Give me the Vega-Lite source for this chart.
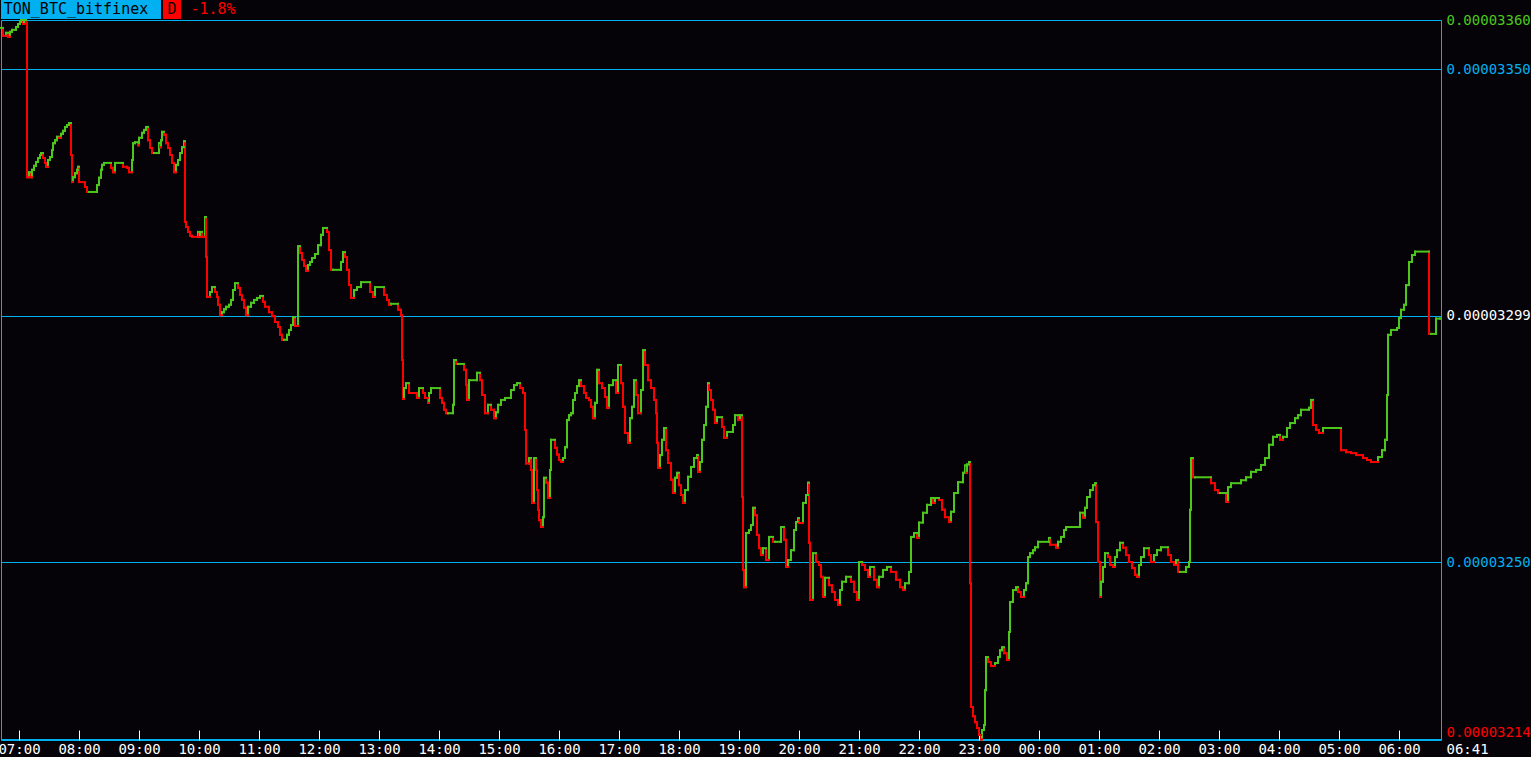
{
  "$schema": "https://vega.github.io/schema/vega-lite/v6.json",
  "background": "#050308",
  "padding": {"left": -3, "top": 0, "right": 0, "bottom": 0},
  "config": {"view": {"stroke": null}, "font": "DejaVu Sans Mono"},
  "spacing": -7,
  "vconcat": [
    {
      "spacing": 2,
      "hconcat": [
        {
          "width": 160, "height": 19,
          "view": {"fill": "#00b0f0", "stroke": null},
          "data": {"values": [{"label": "TON_BTC_bitfinex"}]},
          "mark": {"type": "text", "font": "DejaVu Sans Mono", "fontSize": 15, "color": "#000000", "dx": -5, "dy": -1},
          "encoding": {"text": {"field": "label"}}
        },
        {
          "width": 18, "height": 19,
          "view": {"fill": "#ff0000", "stroke": null},
          "data": {"values": [{"label": "D"}]},
          "mark": {"type": "text", "font": "DejaVu Sans Mono", "fontSize": 15, "color": "#000000", "dy": -1},
          "encoding": {"text": {"field": "label"}}
        },
        {
          "width": 60, "height": 19,
          "data": {"values": [{"label": "-1.8%"}]},
          "mark": {"type": "text", "font": "DejaVu Sans Mono", "fontSize": 15, "color": "#ff0000", "dy": -1},
          "encoding": {"text": {"field": "label"}}
        }
      ]
    },
    {
      "width": 1440,
      "height": 720,
      "view": {"stroke": "#00b0f0", "strokeWidth": 1, "fill": "#050308"},
      "data": {
        "format": {"parse": {"t": "date"}},
        "values": [
          {"t":"2024-09-18T06:42","p":3358.4},{"t":"2024-09-18T06:44","p":3356.8},{"t":"2024-09-18T06:47","p":3357.4},{"t":"2024-09-18T06:49","p":3356.6},
          {"t":"2024-09-18T06:51","p":3357.6},{"t":"2024-09-18T06:53","p":3358.0},{"t":"2024-09-18T06:57","p":3358.6},{"t":"2024-09-18T06:59","p":3359.2},
          {"t":"2024-09-18T07:01","p":3359.6},{"t":"2024-09-18T07:02","p":3360.0},{"t":"2024-09-18T07:04","p":3359.2},{"t":"2024-09-18T07:05","p":3360.0},
          {"t":"2024-09-18T07:07","p":3359.4},{"t":"2024-09-18T07:08","p":3328.1},{"t":"2024-09-18T07:10","p":3329.1},{"t":"2024-09-18T07:12","p":3328.1},
          {"t":"2024-09-18T07:13","p":3329.6},{"t":"2024-09-18T07:15","p":3330.4},{"t":"2024-09-18T07:17","p":3331.2},{"t":"2024-09-18T07:19","p":3332.0},
          {"t":"2024-09-18T07:21","p":3332.6},{"t":"2024-09-18T07:22","p":3333.0},{"t":"2024-09-18T07:24","p":3332.0},{"t":"2024-09-18T07:26","p":3331.0},
          {"t":"2024-09-18T07:27","p":3330.2},{"t":"2024-09-18T07:29","p":3331.6},{"t":"2024-09-18T07:31","p":3332.2},{"t":"2024-09-18T07:33","p":3333.6},
          {"t":"2024-09-18T07:34","p":3335.0},{"t":"2024-09-18T07:36","p":3335.6},{"t":"2024-09-18T07:38","p":3336.3},{"t":"2024-09-18T07:40","p":3336.1},
          {"t":"2024-09-18T07:42","p":3336.9},{"t":"2024-09-18T07:44","p":3337.5},{"t":"2024-09-18T07:46","p":3338.3},{"t":"2024-09-18T07:48","p":3338.7},
          {"t":"2024-09-18T07:50","p":3339.1},{"t":"2024-09-18T07:52","p":3332.6},{"t":"2024-09-18T07:53","p":3327.1},{"t":"2024-09-18T07:54","p":3328.1},
          {"t":"2024-09-18T07:56","p":3328.9},{"t":"2024-09-18T07:58","p":3329.6},{"t":"2024-09-18T07:59","p":3330.2},{"t":"2024-09-18T08:00","p":3327.1},
          {"t":"2024-09-18T08:06","p":3326.1},{"t":"2024-09-18T08:08","p":3325.1},{"t":"2024-09-18T08:10","p":3325.1},{"t":"2024-09-18T08:18","p":3326.5},
          {"t":"2024-09-18T08:20","p":3328.0},{"t":"2024-09-18T08:22","p":3329.6},{"t":"2024-09-18T08:23","p":3330.6},{"t":"2024-09-18T08:25","p":3331.0},
          {"t":"2024-09-18T08:32","p":3330.0},{"t":"2024-09-18T08:34","p":3329.1},{"t":"2024-09-18T08:36","p":3331.0},{"t":"2024-09-18T08:44","p":3330.2},
          {"t":"2024-09-18T08:48","p":3330.0},{"t":"2024-09-18T08:50","p":3329.1},{"t":"2024-09-18T08:53","p":3331.6},{"t":"2024-09-18T08:54","p":3335.0},
          {"t":"2024-09-18T08:56","p":3335.2},{"t":"2024-09-18T08:59","p":3334.6},{"t":"2024-09-18T09:00","p":3336.1},{"t":"2024-09-18T09:03","p":3337.1},
          {"t":"2024-09-18T09:05","p":3337.7},{"t":"2024-09-18T09:07","p":3338.3},{"t":"2024-09-18T09:09","p":3335.6},{"t":"2024-09-18T09:11","p":3334.0},
          {"t":"2024-09-18T09:13","p":3333.0},{"t":"2024-09-18T09:15","p":3333.0},{"t":"2024-09-18T09:20","p":3335.0},{"t":"2024-09-18T09:21","p":3334.2},
          {"t":"2024-09-18T09:22","p":3335.6},{"t":"2024-09-18T09:23","p":3337.3},{"t":"2024-09-18T09:25","p":3336.7},{"t":"2024-09-18T09:27","p":3335.0},
          {"t":"2024-09-18T09:29","p":3334.0},{"t":"2024-09-18T09:31","p":3332.6},{"t":"2024-09-18T09:33","p":3331.0},{"t":"2024-09-18T09:35","p":3329.1},
          {"t":"2024-09-18T09:37","p":3330.6},{"t":"2024-09-18T09:39","p":3331.6},{"t":"2024-09-18T09:41","p":3333.0},{"t":"2024-09-18T09:43","p":3334.2},
          {"t":"2024-09-18T09:45","p":3335.4},{"t":"2024-09-18T09:46","p":3319.0},{"t":"2024-09-18T09:47","p":3318.0},{"t":"2024-09-18T09:49","p":3317.0},
          {"t":"2024-09-18T09:51","p":3316.2},{"t":"2024-09-18T09:53","p":3316.0},{"t":"2024-09-18T09:59","p":3317.0},{"t":"2024-09-18T10:00","p":3316.0},
          {"t":"2024-09-18T10:01","p":3317.0},{"t":"2024-09-18T10:03","p":3316.0},{"t":"2024-09-18T10:06","p":3320.0},{"t":"2024-09-18T10:07","p":3311.9},
          {"t":"2024-09-18T10:08","p":3303.8},{"t":"2024-09-18T10:11","p":3304.8},{"t":"2024-09-18T10:13","p":3305.8},{"t":"2024-09-18T10:16","p":3304.8},
          {"t":"2024-09-18T10:18","p":3303.8},{"t":"2024-09-18T10:19","p":3302.2},{"t":"2024-09-18T10:21","p":3300.1},{"t":"2024-09-18T10:23","p":3300.7},
          {"t":"2024-09-18T10:25","p":3301.3},{"t":"2024-09-18T10:27","p":3301.8},{"t":"2024-09-18T10:30","p":3302.2},{"t":"2024-09-18T10:32","p":3303.2},
          {"t":"2024-09-18T10:34","p":3305.2},{"t":"2024-09-18T10:36","p":3306.6},{"t":"2024-09-18T10:39","p":3305.6},{"t":"2024-09-18T10:41","p":3304.2},
          {"t":"2024-09-18T10:43","p":3303.2},{"t":"2024-09-18T10:45","p":3301.6},{"t":"2024-09-18T10:47","p":3300.1},{"t":"2024-09-18T10:49","p":3301.8},
          {"t":"2024-09-18T10:52","p":3302.6},{"t":"2024-09-18T10:55","p":3303.2},{"t":"2024-09-18T10:58","p":3303.6},{"t":"2024-09-18T11:01","p":3304.0},
          {"t":"2024-09-18T11:04","p":3302.8},{"t":"2024-09-18T11:06","p":3301.8},{"t":"2024-09-18T11:10","p":3300.7},{"t":"2024-09-18T11:13","p":3299.9},
          {"t":"2024-09-18T11:16","p":3298.7},{"t":"2024-09-18T11:19","p":3297.7},{"t":"2024-09-18T11:21","p":3296.1},{"t":"2024-09-18T11:23","p":3295.1},
          {"t":"2024-09-18T11:25","p":3295.1},{"t":"2024-09-18T11:28","p":3296.1},{"t":"2024-09-18T11:30","p":3297.1},{"t":"2024-09-18T11:32","p":3298.1},
          {"t":"2024-09-18T11:34","p":3299.7},{"t":"2024-09-18T11:36","p":3297.9},{"t":"2024-09-18T11:39","p":3314.1},{"t":"2024-09-18T11:41","p":3312.7},
          {"t":"2024-09-18T11:43","p":3311.3},{"t":"2024-09-18T11:45","p":3310.1},{"t":"2024-09-18T11:47","p":3309.1},{"t":"2024-09-18T11:49","p":3310.3},
          {"t":"2024-09-18T11:51","p":3310.9},{"t":"2024-09-18T11:53","p":3311.7},{"t":"2024-09-18T11:56","p":3312.5},{"t":"2024-09-18T11:59","p":3314.3},
          {"t":"2024-09-18T12:02","p":3316.4},{"t":"2024-09-18T12:04","p":3317.8},{"t":"2024-09-18T12:08","p":3317.0},{"t":"2024-09-18T12:10","p":3313.3},
          {"t":"2024-09-18T12:12","p":3309.3},{"t":"2024-09-18T12:14","p":3309.3},{"t":"2024-09-18T12:22","p":3310.9},{"t":"2024-09-18T12:24","p":3312.9},
          {"t":"2024-09-18T12:26","p":3311.9},{"t":"2024-09-18T12:28","p":3309.3},{"t":"2024-09-18T12:30","p":3306.2},{"t":"2024-09-18T12:32","p":3303.6},
          {"t":"2024-09-18T12:35","p":3305.2},{"t":"2024-09-18T12:38","p":3305.8},{"t":"2024-09-18T12:42","p":3306.8},{"t":"2024-09-18T12:51","p":3304.8},
          {"t":"2024-09-18T12:54","p":3303.8},{"t":"2024-09-18T12:56","p":3305.8},{"t":"2024-09-18T13:05","p":3304.2},{"t":"2024-09-18T13:08","p":3303.2},
          {"t":"2024-09-18T13:10","p":3302.2},{"t":"2024-09-18T13:12","p":3302.4},{"t":"2024-09-18T13:19","p":3301.2},{"t":"2024-09-18T13:22","p":3300.1},
          {"t":"2024-09-18T13:23","p":3291.0},{"t":"2024-09-18T13:24","p":3283.1},{"t":"2024-09-18T13:25","p":3285.3},{"t":"2024-09-18T13:27","p":3286.3},
          {"t":"2024-09-18T13:30","p":3284.3},{"t":"2024-09-18T13:38","p":3283.3},{"t":"2024-09-18T13:40","p":3285.3},{"t":"2024-09-18T13:44","p":3284.3},
          {"t":"2024-09-18T13:46","p":3283.3},{"t":"2024-09-18T13:49","p":3282.3},{"t":"2024-09-18T13:50","p":3284.3},{"t":"2024-09-18T13:52","p":3285.3},
          {"t":"2024-09-18T14:01","p":3283.3},{"t":"2024-09-18T14:03","p":3282.3},{"t":"2024-09-18T14:05","p":3280.9},{"t":"2024-09-18T14:07","p":3280.2},
          {"t":"2024-09-18T14:09","p":3280.2},{"t":"2024-09-18T14:14","p":3281.9},{"t":"2024-09-18T14:15","p":3291.0},{"t":"2024-09-18T14:17","p":3290.2},
          {"t":"2024-09-18T14:19","p":3290.2},{"t":"2024-09-18T14:25","p":3289.0},{"t":"2024-09-18T14:27","p":3285.9},{"t":"2024-09-18T14:28","p":3282.9},
          {"t":"2024-09-18T14:30","p":3286.9},{"t":"2024-09-18T14:38","p":3288.4},{"t":"2024-09-18T14:41","p":3286.9},{"t":"2024-09-18T14:43","p":3283.9},
          {"t":"2024-09-18T14:46","p":3280.2},{"t":"2024-09-18T14:49","p":3281.9},{"t":"2024-09-18T14:52","p":3280.9},{"t":"2024-09-18T14:55","p":3279.2},
          {"t":"2024-09-18T14:57","p":3280.4},{"t":"2024-09-18T14:59","p":3281.9},{"t":"2024-09-18T15:02","p":3282.9},{"t":"2024-09-18T15:06","p":3283.3},
          {"t":"2024-09-18T15:12","p":3284.9},{"t":"2024-09-18T15:15","p":3285.9},{"t":"2024-09-18T15:18","p":3286.3},{"t":"2024-09-18T15:21","p":3285.3},
          {"t":"2024-09-18T15:24","p":3284.3},{"t":"2024-09-18T15:26","p":3276.8},{"t":"2024-09-18T15:27","p":3270.0},{"t":"2024-09-18T15:30","p":3271.1},
          {"t":"2024-09-18T15:32","p":3268.7},{"t":"2024-09-18T15:33","p":3262.0},{"t":"2024-09-18T15:35","p":3271.1},{"t":"2024-09-18T15:37","p":3268.7},
          {"t":"2024-09-18T15:38","p":3264.6},{"t":"2024-09-18T15:39","p":3260.6},{"t":"2024-09-18T15:40","p":3258.5},{"t":"2024-09-18T15:42","p":3257.1},
          {"t":"2024-09-18T15:44","p":3259.1},{"t":"2024-09-18T15:45","p":3267.1},{"t":"2024-09-18T15:47","p":3266.1},{"t":"2024-09-18T15:49","p":3263.0},
          {"t":"2024-09-18T15:51","p":3268.7},{"t":"2024-09-18T15:52","p":3274.8},{"t":"2024-09-18T15:56","p":3273.2},{"t":"2024-09-18T15:58","p":3271.8},
          {"t":"2024-09-18T16:00","p":3270.7},{"t":"2024-09-18T16:02","p":3270.3},{"t":"2024-09-18T16:04","p":3271.1},{"t":"2024-09-18T16:06","p":3273.3},
          {"t":"2024-09-18T16:08","p":3278.8},{"t":"2024-09-18T16:10","p":3279.8},{"t":"2024-09-18T16:12","p":3280.2},{"t":"2024-09-18T16:14","p":3282.9},
          {"t":"2024-09-18T16:16","p":3284.3},{"t":"2024-09-18T16:18","p":3285.7},{"t":"2024-09-18T16:20","p":3286.9},{"t":"2024-09-18T16:22","p":3285.7},
          {"t":"2024-09-18T16:25","p":3284.3},{"t":"2024-09-18T16:27","p":3283.3},{"t":"2024-09-18T16:30","p":3282.9},{"t":"2024-09-18T16:32","p":3281.5},
          {"t":"2024-09-18T16:34","p":3279.2},{"t":"2024-09-18T16:36","p":3282.3},{"t":"2024-09-18T16:38","p":3289.0},{"t":"2024-09-18T16:40","p":3286.3},
          {"t":"2024-09-18T16:43","p":3285.3},{"t":"2024-09-18T16:46","p":3283.5},{"t":"2024-09-18T16:48","p":3281.3},{"t":"2024-09-18T16:50","p":3285.9},
          {"t":"2024-09-18T16:54","p":3286.9},{"t":"2024-09-18T16:57","p":3284.3},{"t":"2024-09-18T16:59","p":3290.0},{"t":"2024-09-18T17:02","p":3286.3},
          {"t":"2024-09-18T17:04","p":3281.5},{"t":"2024-09-18T17:06","p":3276.2},{"t":"2024-09-18T17:09","p":3274.2},{"t":"2024-09-18T17:11","p":3279.2},
          {"t":"2024-09-18T17:13","p":3281.5},{"t":"2024-09-18T17:15","p":3286.9},{"t":"2024-09-18T17:17","p":3283.9},{"t":"2024-09-18T17:19","p":3280.2},
          {"t":"2024-09-18T17:22","p":3284.9},{"t":"2024-09-18T17:24","p":3293.0},{"t":"2024-09-18T17:26","p":3290.0},{"t":"2024-09-18T17:29","p":3286.9},
          {"t":"2024-09-18T17:32","p":3285.3},{"t":"2024-09-18T17:35","p":3282.9},{"t":"2024-09-18T17:37","p":3280.2},{"t":"2024-09-18T17:38","p":3274.2},
          {"t":"2024-09-18T17:39","p":3269.1},{"t":"2024-09-18T17:41","p":3271.7},{"t":"2024-09-18T17:43","p":3274.8},{"t":"2024-09-18T17:45","p":3277.2},
          {"t":"2024-09-18T17:47","p":3272.7},{"t":"2024-09-18T17:49","p":3270.1},{"t":"2024-09-18T17:52","p":3266.7},{"t":"2024-09-18T17:54","p":3264.0},
          {"t":"2024-09-18T17:56","p":3267.1},{"t":"2024-09-18T17:58","p":3268.1},{"t":"2024-09-18T18:00","p":3265.6},{"t":"2024-09-18T18:02","p":3263.6},
          {"t":"2024-09-18T18:04","p":3262.0},{"t":"2024-09-18T18:06","p":3264.6},{"t":"2024-09-18T18:09","p":3267.3},{"t":"2024-09-18T18:12","p":3269.3},
          {"t":"2024-09-18T18:15","p":3271.1},{"t":"2024-09-18T18:18","p":3271.7},{"t":"2024-09-18T18:19","p":3268.3},{"t":"2024-09-18T18:21","p":3270.3},
          {"t":"2024-09-18T18:23","p":3274.8},{"t":"2024-09-18T18:25","p":3277.8},{"t":"2024-09-18T18:27","p":3281.5},{"t":"2024-09-18T18:29","p":3286.3},
          {"t":"2024-09-18T18:30","p":3284.9},{"t":"2024-09-18T18:32","p":3282.9},{"t":"2024-09-18T18:34","p":3280.9},{"t":"2024-09-18T18:36","p":3278.2},
          {"t":"2024-09-18T18:38","p":3279.4},{"t":"2024-09-18T18:43","p":3277.4},{"t":"2024-09-18T18:45","p":3275.2},{"t":"2024-09-18T18:48","p":3276.4},
          {"t":"2024-09-18T18:54","p":3277.8},{"t":"2024-09-18T18:56","p":3279.8},{"t":"2024-09-18T18:59","p":3278.8},{"t":"2024-09-18T19:01","p":3279.8},
          {"t":"2024-09-18T19:03","p":3263.2},{"t":"2024-09-18T19:04","p":3248.4},{"t":"2024-09-18T19:05","p":3244.9},{"t":"2024-09-18T19:07","p":3255.9},
          {"t":"2024-09-18T19:10","p":3256.5},{"t":"2024-09-18T19:12","p":3257.5},{"t":"2024-09-18T19:14","p":3261.0},{"t":"2024-09-18T19:16","p":3259.5},
          {"t":"2024-09-18T19:18","p":3255.5},{"t":"2024-09-18T19:20","p":3252.8},{"t":"2024-09-18T19:22","p":3251.4},{"t":"2024-09-18T19:24","p":3252.8},
          {"t":"2024-09-18T19:27","p":3250.4},{"t":"2024-09-18T19:30","p":3255.1},{"t":"2024-09-18T19:34","p":3254.1},{"t":"2024-09-18T19:36","p":3254.1},
          {"t":"2024-09-18T19:42","p":3257.1},{"t":"2024-09-18T19:45","p":3254.5},{"t":"2024-09-18T19:47","p":3249.0},{"t":"2024-09-18T19:49","p":3250.4},
          {"t":"2024-09-18T19:52","p":3252.4},{"t":"2024-09-18T19:55","p":3256.5},{"t":"2024-09-18T19:57","p":3258.1},{"t":"2024-09-18T19:59","p":3258.9},
          {"t":"2024-09-18T20:00","p":3257.9},{"t":"2024-09-18T20:04","p":3262.0},{"t":"2024-09-18T20:07","p":3263.6},{"t":"2024-09-18T20:09","p":3266.1},
          {"t":"2024-09-18T20:10","p":3253.9},{"t":"2024-09-18T20:11","p":3242.3},{"t":"2024-09-18T20:14","p":3251.8},{"t":"2024-09-18T20:17","p":3250.0},
          {"t":"2024-09-18T20:20","p":3249.4},{"t":"2024-09-18T20:22","p":3247.0},{"t":"2024-09-18T20:24","p":3242.9},{"t":"2024-09-18T20:26","p":3246.8},
          {"t":"2024-09-18T20:30","p":3245.3},{"t":"2024-09-18T20:33","p":3243.9},{"t":"2024-09-18T20:36","p":3242.3},{"t":"2024-09-18T20:39","p":3241.3},
          {"t":"2024-09-18T20:41","p":3244.3},{"t":"2024-09-18T20:43","p":3246.0},{"t":"2024-09-18T20:47","p":3247.0},{"t":"2024-09-18T20:52","p":3246.0},
          {"t":"2024-09-18T20:55","p":3243.9},{"t":"2024-09-18T20:58","p":3242.3},{"t":"2024-09-18T21:00","p":3250.0},{"t":"2024-09-18T21:03","p":3249.4},
          {"t":"2024-09-18T21:06","p":3248.4},{"t":"2024-09-18T21:09","p":3247.0},{"t":"2024-09-18T21:11","p":3249.0},{"t":"2024-09-18T21:15","p":3246.4},
          {"t":"2024-09-18T21:18","p":3244.9},{"t":"2024-09-18T21:20","p":3247.0},{"t":"2024-09-18T21:24","p":3248.4},{"t":"2024-09-18T21:28","p":3249.0},
          {"t":"2024-09-18T21:32","p":3248.0},{"t":"2024-09-18T21:37","p":3246.4},{"t":"2024-09-18T21:41","p":3244.9},{"t":"2024-09-18T21:44","p":3244.3},
          {"t":"2024-09-18T21:46","p":3245.7},{"t":"2024-09-18T21:50","p":3248.0},{"t":"2024-09-18T21:52","p":3255.1},{"t":"2024-09-18T21:55","p":3255.9},
          {"t":"2024-09-18T21:58","p":3254.9},{"t":"2024-09-18T22:00","p":3258.0},{"t":"2024-09-18T22:04","p":3260.0},{"t":"2024-09-18T22:08","p":3261.6},
          {"t":"2024-09-18T22:12","p":3263.0},{"t":"2024-09-18T22:14","p":3262.0},{"t":"2024-09-18T22:16","p":3263.0},{"t":"2024-09-18T22:20","p":3262.6},
          {"t":"2024-09-18T22:23","p":3260.6},{"t":"2024-09-18T22:26","p":3259.1},{"t":"2024-09-18T22:30","p":3258.1},{"t":"2024-09-18T22:32","p":3260.2},
          {"t":"2024-09-18T22:35","p":3264.0},{"t":"2024-09-18T22:39","p":3266.2},{"t":"2024-09-18T22:44","p":3268.1},{"t":"2024-09-18T22:46","p":3269.6},
          {"t":"2024-09-18T22:47","p":3268.1},{"t":"2024-09-18T22:48","p":3269.8},{"t":"2024-09-18T22:50","p":3270.3},{"t":"2024-09-18T22:51","p":3245.7},
          {"t":"2024-09-18T22:52","p":3220.6},{"t":"2024-09-18T22:54","p":3218.7},{"t":"2024-09-18T22:56","p":3217.5},{"t":"2024-09-18T22:58","p":3216.3},
          {"t":"2024-09-18T23:00","p":3214.9},{"t":"2024-09-18T23:02","p":3214.0},{"t":"2024-09-18T23:03","p":3215.9},{"t":"2024-09-18T23:05","p":3216.9},
          {"t":"2024-09-18T23:06","p":3224.0},{"t":"2024-09-18T23:07","p":3230.7},{"t":"2024-09-18T23:09","p":3229.7},{"t":"2024-09-18T23:12","p":3228.9},
          {"t":"2024-09-18T23:16","p":3229.5},{"t":"2024-09-18T23:19","p":3230.7},{"t":"2024-09-18T23:21","p":3232.1},{"t":"2024-09-18T23:23","p":3232.7},
          {"t":"2024-09-18T23:25","p":3231.5},{"t":"2024-09-18T23:28","p":3230.1},{"t":"2024-09-18T23:30","p":3235.8},{"t":"2024-09-18T23:31","p":3241.9},
          {"t":"2024-09-18T23:34","p":3244.3},{"t":"2024-09-18T23:37","p":3244.9},{"t":"2024-09-18T23:39","p":3243.9},{"t":"2024-09-18T23:42","p":3242.9},
          {"t":"2024-09-18T23:45","p":3244.3},{"t":"2024-09-18T23:47","p":3245.7},{"t":"2024-09-18T23:49","p":3251.0},{"t":"2024-09-18T23:51","p":3251.8},
          {"t":"2024-09-18T23:54","p":3252.4},{"t":"2024-09-18T23:56","p":3253.0},{"t":"2024-09-18T23:59","p":3254.1},{"t":"2024-09-19T00:10","p":3254.9},
          {"t":"2024-09-19T00:11","p":3253.5},{"t":"2024-09-19T00:17","p":3252.9},{"t":"2024-09-19T00:19","p":3254.1},{"t":"2024-09-19T00:22","p":3255.1},
          {"t":"2024-09-19T00:25","p":3256.5},{"t":"2024-09-19T00:27","p":3257.1},{"t":"2024-09-19T00:41","p":3260.0},{"t":"2024-09-19T00:44","p":3259.0},
          {"t":"2024-09-19T00:46","p":3261.0},{"t":"2024-09-19T00:48","p":3263.2},{"t":"2024-09-19T00:51","p":3264.6},{"t":"2024-09-19T00:54","p":3265.6},
          {"t":"2024-09-19T00:56","p":3266.0},{"t":"2024-09-19T00:57","p":3258.1},{"t":"2024-09-19T00:59","p":3250.0},{"t":"2024-09-19T01:01","p":3242.9},
          {"t":"2024-09-19T01:02","p":3246.0},{"t":"2024-09-19T01:04","p":3249.0},{"t":"2024-09-19T01:06","p":3251.8},{"t":"2024-09-19T01:09","p":3251.0},
          {"t":"2024-09-19T01:11","p":3249.4},{"t":"2024-09-19T01:14","p":3249.0},{"t":"2024-09-19T01:16","p":3251.0},{"t":"2024-09-19T01:18","p":3252.4},
          {"t":"2024-09-19T01:21","p":3253.9},{"t":"2024-09-19T01:24","p":3252.9},{"t":"2024-09-19T01:27","p":3251.4},{"t":"2024-09-19T01:30","p":3250.0},
          {"t":"2024-09-19T01:33","p":3248.8},{"t":"2024-09-19T01:36","p":3247.4},{"t":"2024-09-19T01:38","p":3247.0},{"t":"2024-09-19T01:40","p":3249.4},
          {"t":"2024-09-19T01:42","p":3251.0},{"t":"2024-09-19T01:45","p":3252.8},{"t":"2024-09-19T01:50","p":3251.4},{"t":"2024-09-19T01:52","p":3250.0},
          {"t":"2024-09-19T01:55","p":3251.4},{"t":"2024-09-19T01:58","p":3252.4},{"t":"2024-09-19T02:02","p":3253.0},{"t":"2024-09-19T02:09","p":3251.4},
          {"t":"2024-09-19T02:12","p":3250.0},{"t":"2024-09-19T02:15","p":3249.4},{"t":"2024-09-19T02:17","p":3250.4},{"t":"2024-09-19T02:19","p":3248.0},
          {"t":"2024-09-19T02:21","p":3248.0},{"t":"2024-09-19T02:27","p":3249.0},{"t":"2024-09-19T02:30","p":3250.0},{"t":"2024-09-19T02:31","p":3260.6},
          {"t":"2024-09-19T02:32","p":3271.1},{"t":"2024-09-19T02:34","p":3267.2},{"t":"2024-09-19T02:36","p":3267.2},{"t":"2024-09-19T02:52","p":3266.0},
          {"t":"2024-09-19T02:56","p":3264.6},{"t":"2024-09-19T02:59","p":3264.0},{"t":"2024-09-19T03:01","p":3264.0},{"t":"2024-09-19T03:07","p":3262.2},
          {"t":"2024-09-19T03:09","p":3265.2},{"t":"2024-09-19T03:12","p":3266.0},{"t":"2024-09-19T03:22","p":3266.6},{"t":"2024-09-19T03:27","p":3267.2},
          {"t":"2024-09-19T03:32","p":3268.3},{"t":"2024-09-19T03:37","p":3268.7},{"t":"2024-09-19T03:42","p":3269.7},{"t":"2024-09-19T03:46","p":3271.1},
          {"t":"2024-09-19T03:50","p":3273.8},{"t":"2024-09-19T03:54","p":3275.4},{"t":"2024-09-19T03:58","p":3275.8},{"t":"2024-09-19T04:01","p":3274.8},
          {"t":"2024-09-19T04:04","p":3275.4},{"t":"2024-09-19T04:08","p":3277.2},{"t":"2024-09-19T04:11","p":3278.2},{"t":"2024-09-19T04:16","p":3279.2},
          {"t":"2024-09-19T04:19","p":3279.8},{"t":"2024-09-19T04:22","p":3280.9},{"t":"2024-09-19T04:30","p":3281.3},{"t":"2024-09-19T04:32","p":3282.9},
          {"t":"2024-09-19T04:34","p":3277.8},{"t":"2024-09-19T04:37","p":3276.8},{"t":"2024-09-19T04:40","p":3276.2},{"t":"2024-09-19T04:44","p":3277.2},
          {"t":"2024-09-19T05:02","p":3272.7},{"t":"2024-09-19T05:07","p":3272.3},{"t":"2024-09-19T05:12","p":3272.1},{"t":"2024-09-19T05:17","p":3271.7},
          {"t":"2024-09-19T05:24","p":3271.1},{"t":"2024-09-19T05:28","p":3270.7},{"t":"2024-09-19T05:32","p":3270.3},{"t":"2024-09-19T05:39","p":3271.3},
          {"t":"2024-09-19T05:43","p":3272.7},{"t":"2024-09-19T05:46","p":3274.8},{"t":"2024-09-19T05:48","p":3283.9},{"t":"2024-09-19T05:49","p":3296.1},
          {"t":"2024-09-19T05:52","p":3297.1},{"t":"2024-09-19T05:58","p":3297.5},{"t":"2024-09-19T06:00","p":3299.5},{"t":"2024-09-19T06:02","p":3301.2},
          {"t":"2024-09-19T06:05","p":3302.2},{"t":"2024-09-19T06:07","p":3306.2},{"t":"2024-09-19T06:10","p":3310.9},{"t":"2024-09-19T06:13","p":3312.3},
          {"t":"2024-09-19T06:16","p":3313.0},{"t":"2024-09-19T06:30","p":3296.3},{"t":"2024-09-19T06:32","p":3296.3},{"t":"2024-09-19T06:37","p":3299.4},
          {"t":"2024-09-19T06:41","p":3299.4}
        ]
      },
      "transform": [
        {"window": [{"op": "lag", "field": "p", "as": "p0"}, {"op": "lead", "field": "t", "as": "t2"}], "sort": [{"field": "t", "order": "ascending"}]}
      ],
      "encoding": {
        "x": {
          "field": "t", "type": "temporal",
          "scale": {"domain": [{"year": 2024, "month": 9, "date": 18, "hours": 6, "minutes": 42}, {"year": 2024, "month": 9, "date": 19, "hours": 6, "minutes": 42}]},
          "axis": {
            "title": null,
            "values": [
              {"year": 2024, "month": 9, "date": 18, "hours": 7}, {"year": 2024, "month": 9, "date": 18, "hours": 8},
              {"year": 2024, "month": 9, "date": 18, "hours": 9}, {"year": 2024, "month": 9, "date": 18, "hours": 10},
              {"year": 2024, "month": 9, "date": 18, "hours": 11}, {"year": 2024, "month": 9, "date": 18, "hours": 12},
              {"year": 2024, "month": 9, "date": 18, "hours": 13}, {"year": 2024, "month": 9, "date": 18, "hours": 14},
              {"year": 2024, "month": 9, "date": 18, "hours": 15}, {"year": 2024, "month": 9, "date": 18, "hours": 16},
              {"year": 2024, "month": 9, "date": 18, "hours": 17}, {"year": 2024, "month": 9, "date": 18, "hours": 18},
              {"year": 2024, "month": 9, "date": 18, "hours": 19}, {"year": 2024, "month": 9, "date": 18, "hours": 20},
              {"year": 2024, "month": 9, "date": 18, "hours": 21}, {"year": 2024, "month": 9, "date": 18, "hours": 22},
              {"year": 2024, "month": 9, "date": 18, "hours": 23}, {"year": 2024, "month": 9, "date": 19, "hours": 0},
              {"year": 2024, "month": 9, "date": 19, "hours": 1}, {"year": 2024, "month": 9, "date": 19, "hours": 2},
              {"year": 2024, "month": 9, "date": 19, "hours": 3}, {"year": 2024, "month": 9, "date": 19, "hours": 4},
              {"year": 2024, "month": 9, "date": 19, "hours": 5}, {"year": 2024, "month": 9, "date": 19, "hours": 6},
              {"year": 2024, "month": 9, "date": 19, "hours": 6, "minutes": 41}
            ],
            "format": "%H:%M",
            "domain": false,
            "grid": false,
            "ticks": true,
            "tickColor": "#ffffff",
            "tickWidth": 1,
            "tickSize": -10,
            "tickOpacity": {"condition": {"test": "minutes(datum.value) == 41", "value": 0}, "value": 1},
            "labelColor": "#ffffff",
            "labelFont": "DejaVu Sans Mono",
            "labelFontSize": 14,
            "labelPadding": 12,
            "labelOverlap": false,
            "labelFlush": false,
            "labelBound": false,
            "labelAlign": {"condition": {"test": "minutes(datum.value) == 41", "value": "left"}, "value": "center"},
            "labelOffset": {"condition": {"test": "minutes(datum.value) == 41", "value": 6}, "value": 0}
          }
        },
        "y": {
          "field": "p", "type": "quantitative",
          "scale": {"domain": [3213.88, 3360], "zero": false, "nice": false},
          "axis": {
            "title": null,
            "orient": "right",
            "values": [3214, 3250, 3299.95, 3350, 3360],
            "labelExpr": "format(floor(datum.value) / 100000000, '.8f')",
            "domain": false,
            "ticks": false,
            "grid": true,
            "gridColor": "#00b0f0",
            "gridWidth": 1,
            "labelPadding": 5,
            "labelFont": "DejaVu Sans Mono",
            "labelFontSize": 14,
            "labelOverlap": false,
            "labelFlush": false,
            "labelColor": {"condition": [
              {"test": "datum.value >= 3355", "value": "#4cc81c"},
              {"test": "datum.value < 3220", "value": "#ff0000"},
              {"test": "datum.value > 3299 && datum.value < 3301", "value": "#ffffff"}
            ], "value": "#00b0f0"},
            "labelBaseline": {"condition": {"test": "datum.value < 3220", "value": "bottom"}, "value": "middle"}
          }
        },
        "color": {"condition": {"test": "datum.p < datum.p0", "value": "#ff0000"}, "value": "#4cc81c"}
      },
      "layer": [
        {
          "transform": [{"filter": "datum.p0 != null"}],
          "mark": {"type": "rule", "strokeWidth": 2, "strokeCap": "square"},
          "encoding": {"y2": {"field": "p0"}}
        },
        {
          "transform": [{"filter": "datum.t2 != null"}],
          "mark": {"type": "rule", "strokeWidth": 2, "strokeCap": "square"},
          "encoding": {"x2": {"field": "t2"}}
        }
      ]
    }
  ]
}
